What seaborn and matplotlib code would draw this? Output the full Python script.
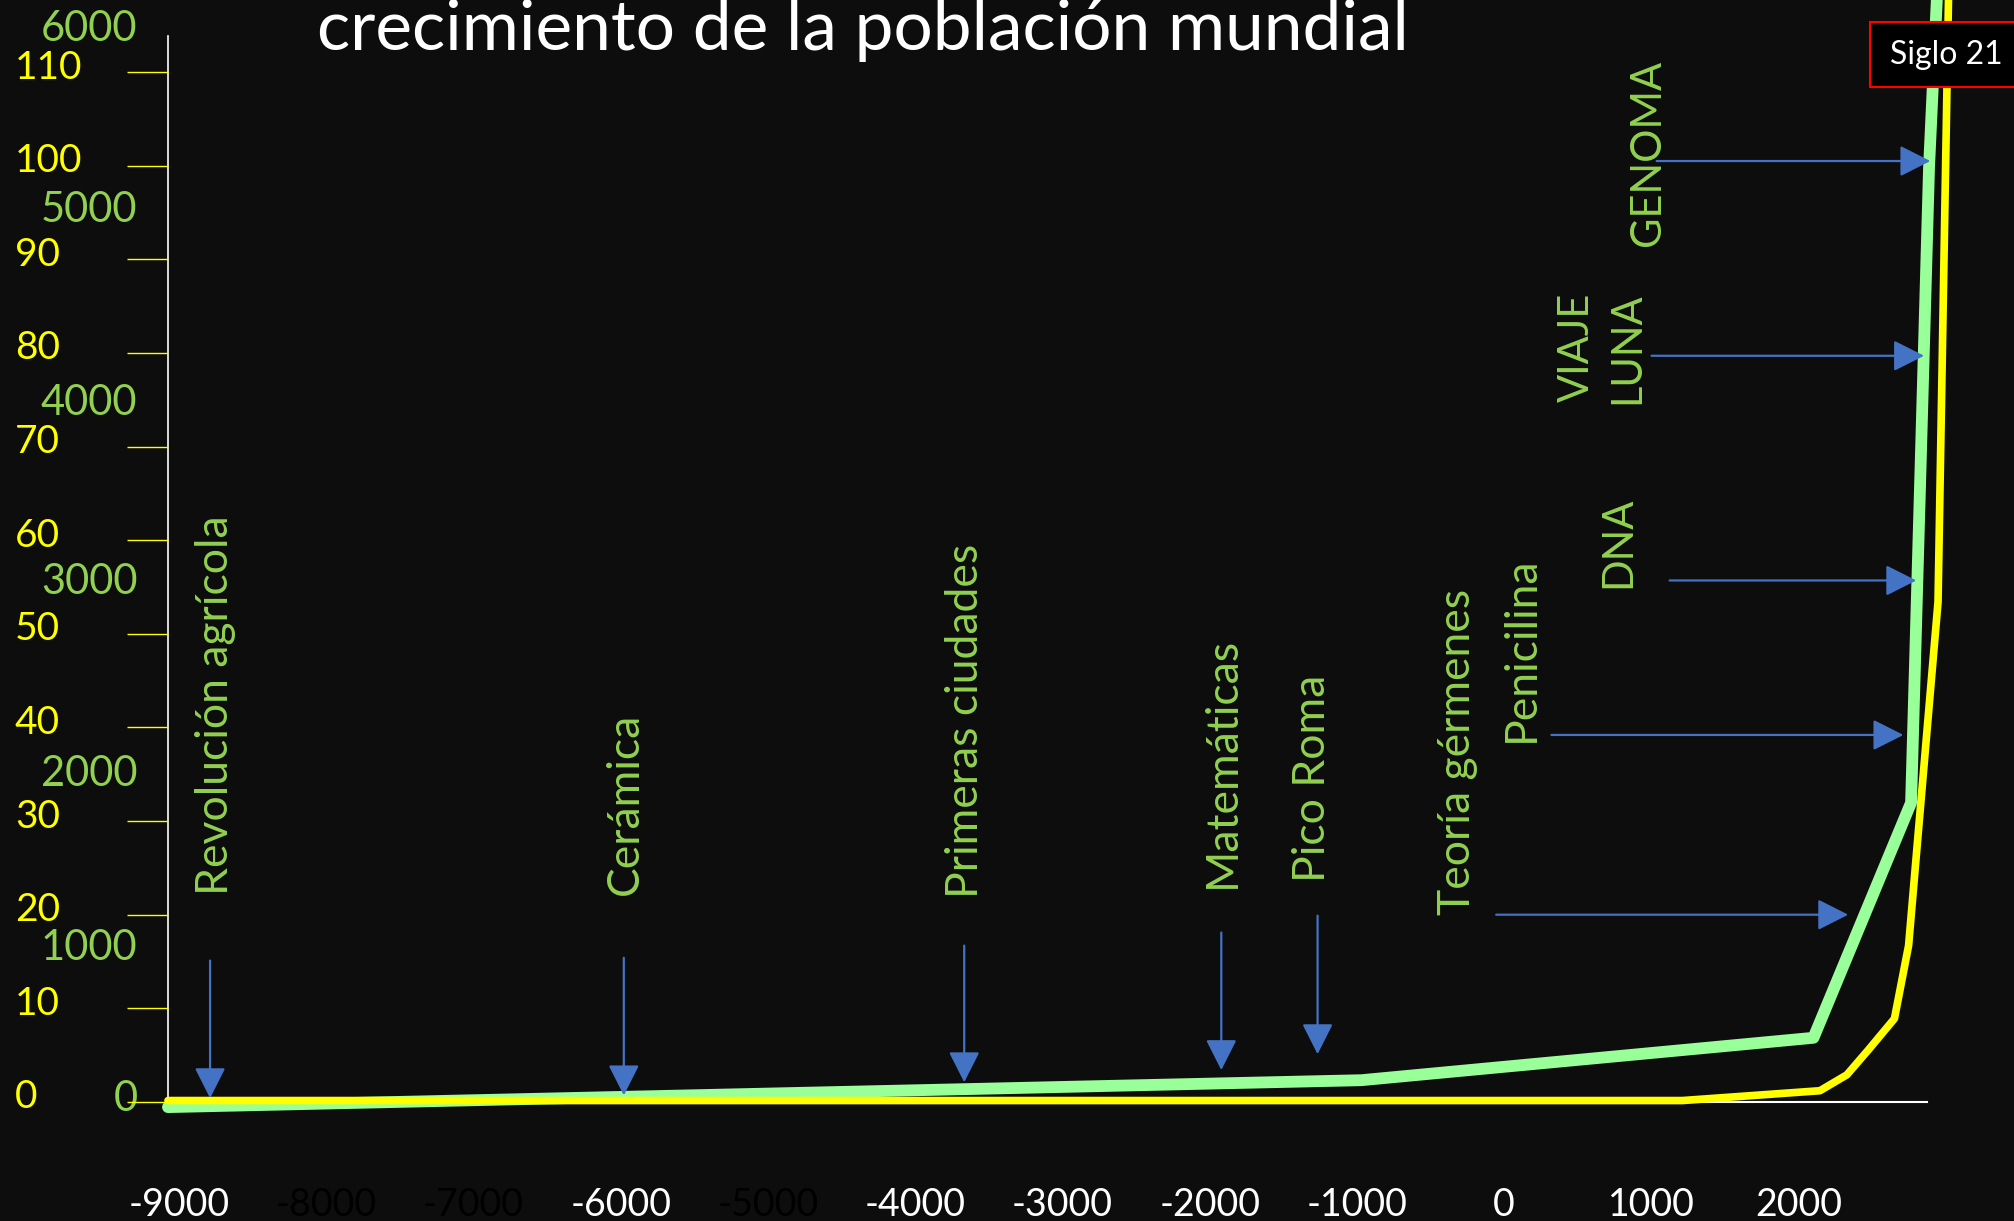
import matplotlib
matplotlib.use("Agg")
import matplotlib.pyplot as plt
import matplotlib.transforms as mtransforms
import seaborn as sns
from matplotlib.patches import Rectangle

# datos (eje x en "años" aproximados del dibujo)
anio_verde = [-9075, -970, 2101, 2764, 2886, 2947]
poblacion = [-29, 122, 360, 1679, 5245, 6330]          # millones (escala verde)
anio_amarillo = [-9075, 1211, 2145, 2328, 2476, 2651, 2747, 2947, 3018, 3026]
amarillo = [0.15, 0.15, 1.2, 2.9, 5.6, 8.9, 16.7, 53.4, 117.7, 122]

ticks_x = [-9000, -8000, -7000, -6000, -5000, -4000, -3000, -2000, -1000, 0, 1000, 2000]
ticks_x_ocultos = [-8000, -7000, -5000]
ticks_amarillo = [0, 10, 20, 30, 40, 50, 60, 70, 80, 90, 100, 110]
etiquetas_verde = ["0", "1000", "2000", "3000", "4000", "5000", "6000"]
altura_etiquetas_verde = [36, 886, 1859, 2939, 3941, 5022, 6037]

# hitos con flecha vertical: (texto, x texto, y base texto, x flecha, y inicio, y fin)
hitos_v = [("Revolución agrícola", -8754, 22.1, -8789, 15.1, 0.4),
           ("Cerámica", -5970, 22.1, -5979, 15.4, 0.7),
           ("Primeras ciudades", -3658, 21.8, -3667, 16.7, 2.1),
           ("Matemáticas", -1913, 22.9, -1921, 18.1, 3.4),
           ("Pico Roma", -1302, 23.5, -1267, 19.9, 5.1)]
# hitos con flecha horizontal: (texto, x texto, y base texto, y flecha, x inicio, x fin, tamaño)
hitos_h = [("Teoría gérmenes", -316, 20.0, 20.0, -54, 2337, 32),
           ("Penicilina", 120, 38.4, 39.2, 321, 2712, 32),
           ("DNA", 775, 54.9, 55.7, 1124, 2799, 30),
           ("VIAJE\nLUNA", 662, 74.6, 79.7, 1001, 2852, 30),
           ("GENOMA", 976, 91.4, 100.5, 1036, 2895, 30)]

fondo = "#0d0d0d"
verde_linea = "#99ff99"
verde_txt = "#92d050"
amarillo_c = "#ffff00"
azul = "#4472c4"

sns.set_style("dark", {"axes.facecolor": fondo, "figure.facecolor": fondo})
plt.rcParams['font.family'] = ['Lato', 'DejaVu Sans']

fig = plt.figure(figsize=(20.14, 12.21), dpi=100)
ax = fig.add_axes([0.0834, 0.0975, 0.9166, 0.9025])
ax2 = ax.twinx()

sns.lineplot(x=anio_verde, y=poblacion, ax=ax, color=verde_linea, linewidth=8.5,
             sort=False, estimator=None, clip_on=False)
sns.lineplot(x=anio_amarillo, y=amarillo, ax=ax2, color=amarillo_c, linewidth=5.5,
             sort=False, estimator=None, clip_on=False)

ax.set_xlim(-9075, 3463)
ax.set_ylim(0, 6182)
ax2.set_ylim(0, 117.7)
ax.grid(False)
ax2.grid(False)

# eje verde (solo etiquetas)
ax.set_yticks(altura_etiquetas_verde)
ax.set_yticklabels(etiquetas_verde)
ax.tick_params(axis='y', length=0, pad=22, labelsize=30, labelcolor=verde_txt)

# eje amarillo (marcas + etiquetas a la izquierda)
ax2.yaxis.tick_left()
ax2.set_yticks(ticks_amarillo)
ax2.set_yticklabels([str(t) for t in ticks_amarillo])
ax2.tick_params(axis='y', left=True, right=False, labelleft=True, labelright=False,
                length=29.6, width=1, color=amarillo_c, pad=80.6, labelsize=28,
                labelcolor=amarillo_c)
sube = mtransforms.ScaledTranslation(0, 0.08, fig.dpi_scale_trans)
for lab in ax2.get_yticklabels():
    lab.set_horizontalalignment('left')
    lab.set_transform(lab.get_transform() + sube)

# eje x
ax.set_xticks(ticks_x)
ax.set_xticklabels([str(t) for t in ticks_x])
ax.tick_params(axis='x', length=0, pad=61, labelsize=27)
for t, lab in zip(ticks_x, ax.get_xticklabels()):
    lab.set_color("#000000" if t in ticks_x_ocultos else "white")

for s in ["top", "right"]:
    ax.spines[s].set_visible(False)
for s in ax2.spines.values():
    s.set_visible(False)
ax.spines["left"].set_color("white")
ax.spines["left"].set_linewidth(1.2)
ax.spines["left"].set_bounds(0, 6182 * 113.9 / 117.7)
ax.spines["bottom"].set_color("white")
ax.spines["bottom"].set_linewidth(1.5)
ax.spines["bottom"].set_bounds(-9075, 2869)

flecha = dict(arrowstyle="-|>,head_length=0.95,head_width=0.48", color=azul, lw=1.6,
              shrinkA=0, shrinkB=0, mutation_scale=20)

for txt, xt, yt, xf, y0, y1 in hitos_v:
    ax2.text(xt, yt, txt, rotation=90, ha='center', va='bottom', color=verde_txt, fontsize=32)
    ax2.annotate("", xy=(xf, y1), xytext=(xf, y0), arrowprops=flecha)

for txt, xt, yt, yf, x0, x1, fs in hitos_h:
    ax2.text(xt, yt, txt, rotation=90, ha='center', va='bottom', color=verde_txt,
             fontsize=fs, linespacing=1.4, multialignment='center')
    ax2.annotate("", xy=(x1, yf), xytext=(x0, yf), arrowprops=flecha)

# título
fig.text(317 / 2014, 1 - 50 / 1221, "crecimiento de la población mundial",
         color="white", fontsize=50, va='baseline', ha='left')

# recuadro "Siglo 21"
fig.patches.append(Rectangle((1870 / 2014, 1 - 87 / 1221), 0.1, 65 / 1221,
                             transform=fig.transFigure, facecolor="black",
                             edgecolor="red", linewidth=1.5, zorder=5))
fig.text(1946 / 2014, 1 - 55 / 1221, "Siglo 21", color="white", fontsize=23,
         ha='center', va='center', zorder=6)

fig.savefig("out.png", dpi=100, facecolor=fondo)
